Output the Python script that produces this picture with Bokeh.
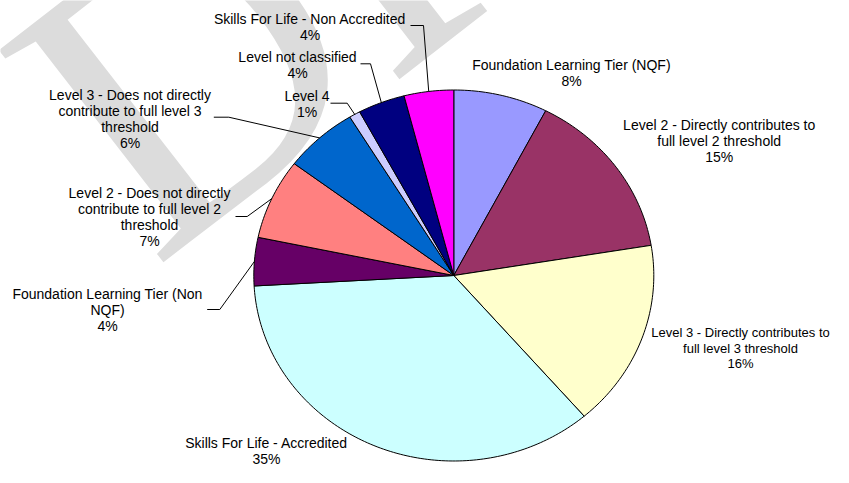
import numpy as np
from bokeh.plotting import figure
from bokeh.models import Range1d, Label, ColumnDataSource
from bokeh.core.properties import value
from bokeh.embed import file_html
from bokeh.resources import INLINE

# ---------------- data ----------------
categories = [
    "Foundation Learning Tier (NQF)",
    "Level 2 - Directly contributes to full level 2 threshold",
    "Level 3 - Directly contributes to full level 3 threshold",
    "Skills For Life - Accredited",
    "Foundation Learning Tier (Non NQF)",
    "Level 2 - Does not directly contribute to full level 2 threshold",
    "Level 3 - Does not directly contribute to full level 3 threshold",
    "Level 4",
    "Level not classified",
    "Skills For Life - Non Accredited",
]
shares = [7.6, 14.8, 16.3, 35.4, 4.2, 7.0, 6.0, 0.9, 3.8, 4.0]
colors = ["#9999FF", "#993366", "#FFFFCC", "#CCFFFF", "#660066",
          "#FF8080", "#0066CC", "#CCCCFF", "#000080", "#FF00FF"]
label_lines = [
    ["Foundation Learning Tier (NQF)"],
    ["Level 2 - Directly contributes to", "full level 2 threshold"],
    ["Level 3 - Directly contributes to", "full level 3 threshold"],
    ["Skills For Life - Accredited"],
    ["Foundation Learning Tier (Non", "NQF)"],
    ["Level 2 - Does not directly", "contribute to full level 2", "threshold"],
    ["Level 3 - Does not directly", "contribute to full level 3", "threshold"],
    ["Level 4"],
    ["Level not classified"],
    ["Skills For Life - Non Accredited"],
]

# ---------------- layout (canvas pixels) ----------------
W, H = 833, 467
CX, CY, RX, RY = 453.3, 275.0, 200.0, 185.5
FONT = "Liberation Sans"

# label block: (center x, first-line center y, line step, font size)
label_pos = [
    (571, 64, 16.2, 14), (718.7, 124.3, 16.2, 14), (740, 332, 15.5, 13),
    (266, 442, 16.0, 14), (107, 293.3, 16.2, 14), (149, 192.7, 16.0, 14),
    (129.5, 94, 16.0, 14), (306.5, 95, 16.0, 14), (297, 56.7, 16.0, 14),
    (309.5, 18.3, 16.5, 14),
]
# leader lines: (start x, start y, elbow x) or None
leaders = [
    None, None, None, None,
    (206.7, 309, 219.3),
    (235, 216, 246.7),
    (213.3, 116.7, 228.3),
    (330, 102.7, 346.7),
    (360, 63.3, 370),
    (410, 25, 423),
]

p = figure(width=W, height=H, output_backend="svg", toolbar_location=None,
           x_range=Range1d(0, W), y_range=Range1d(H, 0),
           x_axis_type=None, y_axis_type=None, min_border=0)
p.grid.visible = False
p.outline_line_color = None
p.background_fill_color = "white"

# watermark behind the chart
wm = Label(x=69, y=160, text="DRAFT", angle=0.66, text_font="Liberation Serif",
           text_font_size="410px", text_color="#DCDCDC", text_align="left",
           text_baseline="alphabetic", level="underlay")
p.add_layout(wm)

# wedges (clockwise from 12 o'clock)
vals = np.array(shares, dtype=float)
fr = vals / vals.sum()
ends = np.cumsum(fr)
starts = ends - fr
xs, ys = [], []
for s, e in zip(starts, ends):
    n = max(3, int(np.ceil((e - s) * 360)))
    t = np.linspace(s, e, n) * 2 * np.pi
    xs.append(list(np.concatenate([[CX], CX + RX * np.sin(t)])))
    ys.append(list(np.concatenate([[CY], CY - RY * np.cos(t)])))
src = ColumnDataSource(dict(xs=xs, ys=ys, color=colors, name=categories))
p.patches("xs", "ys", source=src, fill_color="color", line_color="black", line_width=1)

# labels, one text per line
tx, ty, tt, tf = [], [], [], []
for lines, v, (cx, cy, step, fs) in zip(label_lines, shares, label_pos):
    for k, s in enumerate(lines + [f"{round(v)}%"]):
        tx.append(cx)
        ty.append(cy + k * step)
        tt.append(s)
        tf.append(f"{fs}px")
tsrc = ColumnDataSource(dict(x=tx, y=ty, t=tt, fs=tf))
p.text("x", "y", text="t", source=tsrc, text_align="center", text_baseline="middle",
       text_font=value(FONT), text_font_size="fs", text_color="black")

# leader lines to slice mid-angle on the rim
mids = (starts + ends) / 2 * 2 * np.pi
lx, ly = [], []
for i, ld in enumerate(leaders):
    if ld is None:
        continue
    ex = CX + RX * np.sin(mids[i])
    ey = CY - RY * np.cos(mids[i])
    lx.append([ld[0], ld[2], ex])
    ly.append([ld[1], ld[1], ey])
p.multi_line(lx, ly, line_color="black", line_width=1)

open("out.html", "w").write(file_html(p, INLINE))
